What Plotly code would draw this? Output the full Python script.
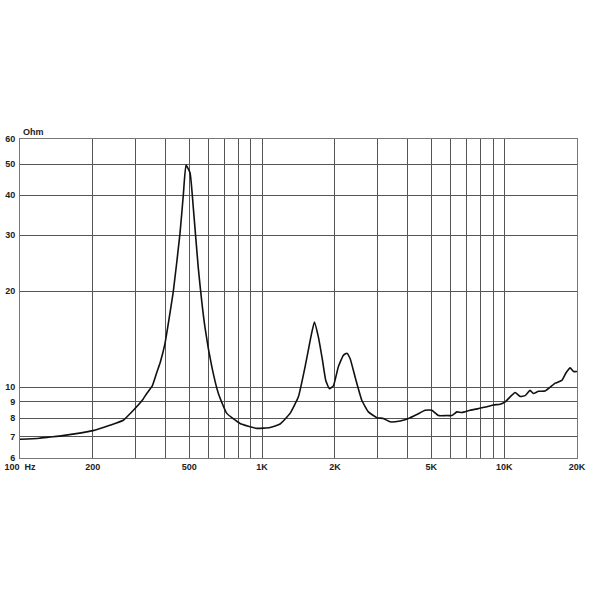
import plotly.graph_objects as go

freq_hz = [100, 120, 133, 150, 200, 235, 267, 294, 320, 334, 352, 367, 380, 397, 430, 458, 473, 485,
           504, 520, 545, 581, 620, 660, 715, 811, 951, 1079, 1187, 1305, 1413, 1506, 1590, 1645,
           1709, 1775, 1833, 1897, 1971, 2066, 2168, 2239, 2310, 2424, 2583, 2749, 2979, 3171, 3380,
           3718, 4024, 4357, 4715, 5026, 5355, 5797, 6080, 6381, 6690, 7237, 7831, 8483, 9039, 9623,
           10100, 10590, 11100, 11650, 12210, 12800, 13210, 13860, 14770, 15490, 16250, 17310, 18030,
           18740, 19330, 20000]
impedance_ohm = [6.87, 6.92, 6.98, 7.05, 7.31, 7.6, 7.88, 8.47, 9.1, 9.56, 10.1, 11.1, 12.0, 13.7, 20.0,
                 30.3, 40.2, 49.7, 47.0, 36.5, 23.7, 15.4, 11.6, 9.56, 8.28, 7.7, 7.43, 7.48, 7.67, 8.28,
                 9.33, 11.6, 14.35, 16.0, 14.35, 12.2, 10.5, 9.9, 10.1, 11.6, 12.6, 12.78, 12.3, 10.75,
                 9.1, 8.37, 8.03, 7.98, 7.79, 7.84, 7.98, 8.21, 8.47, 8.47, 8.15, 8.15, 8.15, 8.37, 8.33,
                 8.47, 8.57, 8.68, 8.8, 8.85, 9.0, 9.33, 9.63, 9.36, 9.41, 9.78, 9.56, 9.71, 9.73, 10.0,
                 10.3, 10.5, 11.1, 11.5, 11.2, 11.2]

x_grid = [100, 200, 300, 400, 500, 600, 700, 800, 900, 1000, 2000, 3000, 4000, 5000, 6000, 7000,
          8000, 9000, 10000, 20000]
x_labels = ["100  Hz", "200", "", "", "500", "", "", "", "", "1K", "2K", "", "", "5K", "", "", "",
            "", "10K", "20K"]
y_grid = [6, 7, 8, 9, 10, 20, 30, 40, 50, 60]
y_labels = ["6", "7", "8", "9", "10", "20", "30", "40", "50", "60"]

fig = go.Figure()
fig.add_trace(go.Scatter(x=freq_hz, y=impedance_ohm, mode="lines", line_shape="spline",
                         line=dict(color="#111111", width=1.6, smoothing=0.4), hoverinfo="skip"))

font = dict(family="Liberation Sans, Arial, sans-serif", size=9, color="#222222", weight="bold")
fig.update_layout(
    width=600, height=600,
    margin=dict(l=20, r=23, t=139, b=142, autoexpand=False),
    paper_bgcolor="white", plot_bgcolor="white",
    showlegend=False,
    font=font,
    xaxis=dict(type="log", range=[2, 4.30103], tickmode="array", tickvals=x_grid,
               ticktext=x_labels, showgrid=True, gridcolor="#555555", gridwidth=1,
               showline=True, linecolor="#777777", linewidth=1, mirror=True, automargin=False,
               ticks="", zeroline=False, tickfont=font),
    yaxis=dict(type="log", range=[0.778151, 1.778151], tickmode="array", tickvals=y_grid,
               ticktext=y_labels, showgrid=True, gridcolor="#555555", gridwidth=1,
               showline=True, linecolor="#777777", linewidth=1, mirror=True, automargin=False,
               ticks="", zeroline=False, tickfont=font, ticklabelstandoff=2),
    annotations=[dict(text="Ohm", xref="paper", yref="paper", x=0.0, y=1.0,
                      xanchor="left", yanchor="bottom", showarrow=False,
                      font=font, xshift=1, yshift=0)],
)
fig.write_html("out.html", config={"displayModeBar": False},
               post_script="document.body.style.margin='0';document.body.style.overflow='hidden';")
